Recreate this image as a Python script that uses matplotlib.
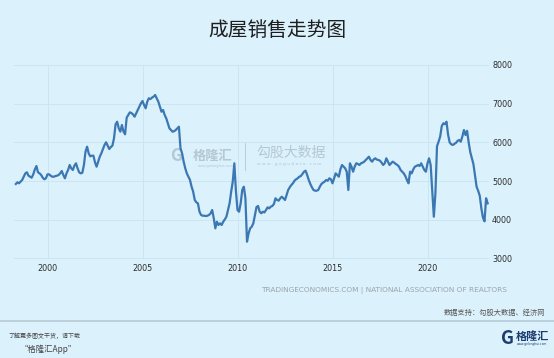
import matplotlib
matplotlib.use('Agg')
import matplotlib.pyplot as plt
from matplotlib.lines import Line2D
import numpy as np

# ---- data: US existing home sales (SAAR, thousands), monthly from May 1998 ----
start_year = 1998
start_month = 5
v1998 = [4925, 4969, 4943, 4985, 5028, 5114, 5200, 5227]
v1999 = [5140, 5114, 5088, 5175, 5300, 5390, 5227, 5200, 5157, 5088, 5046, 5072]
v2000 = [5175, 5175, 5140, 5114, 5114, 5130, 5140, 5157, 5200, 5261, 5157, 5072]
v2001 = [5200, 5287, 5416, 5330, 5287, 5400, 5460, 5330, 5227, 5200, 5215, 5416]
v2002 = [5760, 5890, 5718, 5640, 5657, 5657, 5485, 5372, 5500, 5630, 5718, 5829]
v2003 = [5933, 6003, 5916, 5829, 5880, 5916, 6106, 6468, 6535, 6364, 6278, 6450]
v2004 = [6278, 6209, 6638, 6707, 6776, 6760, 6724, 6664, 6750, 6836, 6922, 7010]
v2005 = [7070, 6966, 6881, 7052, 7140, 7120, 7157, 7183, 7225, 7140, 7052, 6922]
v2006 = [6793, 6837, 6708, 6623, 6494, 6364, 6320, 6276, 6290, 6320, 6364, 6406]
v2007 = [5848, 5718, 5502, 5331, 5200, 5114, 5028, 4855, 4726, 4512, 4452, 4426]
v2008 = [4209, 4124, 4106, 4106, 4097, 4106, 4124, 4167, 4253, 4039, 3780, 3951]
v2009 = [3866, 3909, 3866, 3951, 4010, 4080, 4253, 4426, 4726, 4985, 5460, 4750]
v2010 = [4253, 4209, 4426, 4770, 4855, 4556, 3434, 3650, 3780, 3822, 3909, 4124]
v2011 = [4330, 4357, 4209, 4168, 4209, 4190, 4253, 4322, 4296, 4339, 4357, 4408]
v2012 = [4556, 4512, 4495, 4556, 4597, 4556, 4512, 4640, 4770, 4840, 4899, 4943]
v2013 = [5010, 5046, 5072, 5114, 5130, 5183, 5243, 5269, 5157, 5028, 4925, 4840]
v2014 = [4770, 4752, 4752, 4770, 4855, 4925, 4960, 4985, 5028, 5010, 5072, 5046]
v2015 = [4943, 5072, 5200, 5157, 5114, 5305, 5416, 5373, 5331, 5243, 4770, 5460]
v2016 = [5373, 5243, 5373, 5460, 5443, 5416, 5460, 5476, 5502, 5545, 5589, 5630]
v2017 = [5545, 5502, 5560, 5589, 5555, 5545, 5528, 5476, 5416, 5460, 5589, 5502]
v2018 = [5416, 5460, 5502, 5476, 5440, 5416, 5373, 5287, 5243, 5200, 5130, 5028]
v2019 = [4943, 5243, 5200, 5300, 5373, 5390, 5416, 5390, 5460, 5373, 5287, 5243]
v2020 = [5460, 5589, 5416, 4770, 4080, 4685, 5900, 6018, 6150, 6420, 6494, 6470]
v2021 = [6535, 6200, 6000, 5950, 5933, 5960, 5990, 6040, 6062, 6018, 6150, 6320]
v2022 = [6191, 6300, 6000, 5750, 5600, 5440, 5150, 4855, 4750, 4620, 4300, 4060]
v2023 = [3960, 4556, 4426]

values = (v1998 + v1999 + v2000 + v2001 + v2002 + v2003 + v2004 + v2005 + v2006 +
          v2007 + v2008 + v2009 + v2010 + v2011 + v2012 + v2013 + v2014 + v2015 +
          v2016 + v2017 + v2018 + v2019 + v2020 + v2021 + v2022 + v2023)

x_ticks = [2000, 2005, 2010, 2015, 2020]
y_ticks = [3000, 4000, 5000, 6000, 7000, 8000]

title = "成屋销售走势图"
source = "TRADINGECONOMICS.COM | NATIONAL ASSOCIATION OF REALTORS"
support = "数据支持：勾股大数据、经济网"

# ---- styling ----
W, H = 554, 358
BG = '#dbf1fc'
LINE = '#3b78b3'
CJK = ['Noto Sans CJK SC', 'DejaVu Sans']
plt.rcParams['font.family'] = ['DejaVu Sans', 'Noto Sans CJK SC']

def fx(px):
    return px / W

def fy(py):
    return 1 - py / H

fig = plt.figure(figsize=(W / 100, H / 100), dpi=100, facecolor=BG)
ax = fig.add_axes([fx(14.25), fy(258.5), (489.25 - 14.25) / W, (258.5 - 65) / H])
ax.set_facecolor(BG)

xs = start_year + (start_month - 1) / 12 + np.arange(len(values)) / 12
ax.plot(xs, values, color=LINE, lw=1.6, solid_joinstyle='round', zorder=3)

ax.set_xlim(1998.25, 2023.25)
ax.set_ylim(3000, 8000)
ax.set_xticks(x_ticks)
ax.set_xticklabels([str(t) for t in x_ticks])
ax.set_yticks(y_ticks)
ax.set_yticklabels([str(t) for t in y_ticks])
ax.yaxis.tick_right()
ax.tick_params(axis='both', length=0, labelsize=5.8, colors='#2e2e2e')
ax.tick_params(axis='x', pad=4)
ax.tick_params(axis='y', pad=2)
ax.grid(True, color='#cae3f1', lw=0.6, zorder=0)
for s in ax.spines.values():
    s.set_visible(False)

# watermark
wm = '#b4c7d5'
ax.text(fx(176), fy(156), 'G', transform=fig.transFigure, ha='center', va='center',
        fontsize=12, fontweight='bold', color=wm, zorder=1, family=CJK)
ax.text(fx(213), fy(156), '格隆汇', transform=fig.transFigure, ha='center', va='center',
        fontsize=9.5, fontweight='bold', color=wm, zorder=1, family=CJK)
ax.text(fx(198), fy(166), 'www.gelonghui.com', transform=fig.transFigure, ha='left', va='center',
        fontsize=2.5, color=wm, zorder=1)
ax.add_artist(Line2D([fx(245), fx(245)], [fy(143), fy(170)], transform=fig.transFigure,
                     color=wm, lw=0.6, zorder=1))
ax.text(fx(291), fy(153), '勾股大数据', transform=fig.transFigure, ha='center', va='center',
        fontsize=10, color=wm, zorder=1, family=CJK)
ax.text(fx(289), fy(164), 'w w w . g o g u d a t a . c o m', transform=fig.transFigure,
        ha='center', va='center', fontsize=3.2, color=wm, zorder=1)

# title
fig.text(fx(277), fy(30), title, ha='center', va='center', fontsize=14.2,
         color='#1e1e1e', family=CJK, fontweight='medium')

# source lines
fig.text(fx(507), fy(290), source, ha='right', va='center', fontsize=5.3, color='#9aa4aa')
fig.text(fx(545), fy(313), support, ha='right', va='center', fontsize=5.2,
         color='#555555', family=CJK)

# separator
fig.add_artist(Line2D([0, 1], [fy(321), fy(321)], transform=fig.transFigure,
                      color='#b7cbd6', lw=1.2))

# footer left
fig.text(fx(8), fy(336), '了解更多图文干货，请下载', ha='left', va='center', fontsize=4.3,
         color='#444444', style='italic', family=CJK)
fig.text(fx(20), fy(349), '“格隆汇App”', ha='left', va='center', fontsize=6,
         color='#444444', style='italic', family=CJK)

# footer right logo
fig.text(fx(508), fy(338), 'G', ha='center', va='center', fontsize=13, fontweight='bold',
         color='#1c3c70', family=CJK)
fig.text(fx(532), fy(336), '格隆汇', ha='center', va='center', fontsize=8, fontweight='bold',
         color='#1c3c70', family=CJK)
fig.text(fx(532), fy(344), 'www.gelonghui.com', ha='center', va='center', fontsize=2.2,
         color='#1c3c70')

fig.savefig('out.png', dpi=100, facecolor=BG)
